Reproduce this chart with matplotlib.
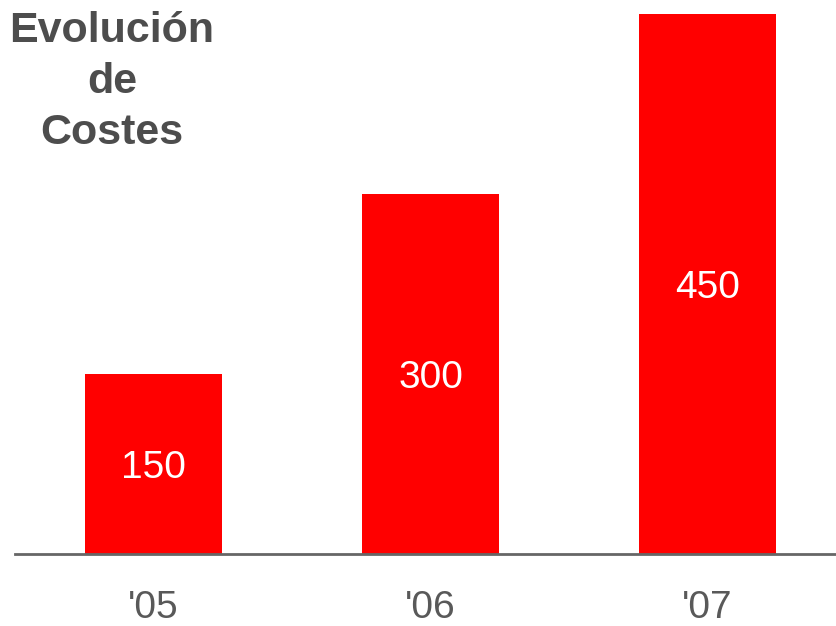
import matplotlib.pyplot as plt

plt.rcParams['font.family'] = ['Liberation Sans', 'DejaVu Sans']

years = ["'05", "'06", "'07"]
costs = [150, 300, 450]

fig = plt.figure(figsize=(8.37, 6.26), dpi=100)
ax = fig.add_axes([15 / 837, 72 / 626, 822 / 837, 554 / 626])

x = range(len(years))
bars = ax.bar(x, costs, width=0.495, color='#ff0000')

# value labels in the middle of each bar
for rect, v in zip(bars, costs):
    ax.text(rect.get_x() + rect.get_width() / 2, v / 2, str(v),
            ha='center', va='center_baseline', color='white', fontsize=28)

ax.set_xlim(-0.5, 2.467)
ax.set_ylim(0, 461.7)
ax.set_xticks(list(x))
ax.set_xticklabels(years, fontsize=28, color='#595959')
ax.tick_params(axis='x', length=0, pad=26)
ax.set_yticks([])

for side in ['top', 'right', 'left']:
    ax.spines[side].set_visible(False)
ax.spines['bottom'].set_color('#666666')
ax.spines['bottom'].set_linewidth(2)

fig.text(112 / 837, 1 - 82 / 626, 'Evolución\nde\nCostes', ha='center', va='center',
         fontsize=31, fontweight='bold', color='#4d4d4d', linespacing=1.36)

fig.savefig('out.png', dpi=100)
